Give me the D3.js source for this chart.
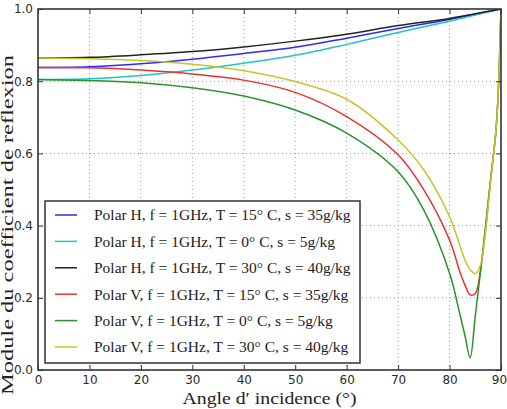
<!DOCTYPE html>
<html>
<head>
<meta charset="utf-8">
<script src="https://cdn.jsdelivr.net/npm/d3@7"></script>
<style>
  body { margin: 0; background: #fff; }
  svg { display: block; }
</style>
</head>
<body>
<svg></svg>
<script>
const width = 507
const height = 409
const margin = { top: 9, right: 6, bottom: 39, left: 38 }

// angles (degrees) sampled for each family of curves
const anglesH = [0, 10, 20, 30, 40, 50, 60, 70, 80, 85, 90]
const anglesV = [0, 10, 20, 30, 40, 50, 60, 70, 75, 80, 82, 83, 84, 85, 86, 87, 88, 89, 89.5, 90]

// values
const hT15 = [0.838, 0.840, 0.848, 0.861, 0.877, 0.894, 0.919, 0.946, 0.971, 0.986, 1.0]
const hT0 = [0.805, 0.807, 0.816, 0.831, 0.850, 0.872, 0.902, 0.935, 0.966, 0.983, 1.0]
const hT30 = [0.864, 0.866, 0.873, 0.882, 0.895, 0.911, 0.930, 0.954, 0.974, 0.987, 1.0]
const vT15 = [0.838, 0.837, 0.831, 0.820, 0.803, 0.769, 0.702, 0.596, 0.499, 0.360, 0.272, 0.235, 0.208, 0.212, 0.275, 0.390, 0.530, 0.660, 0.780, 1.0]
const vT0 = [0.805, 0.802, 0.796, 0.782, 0.759, 0.720, 0.656, 0.549, 0.443, 0.268, 0.155, 0.095, 0.034, 0.150, 0.270, 0.400, 0.530, 0.660, 0.780, 1.0]
const vT30 = [0.864, 0.862, 0.857, 0.847, 0.829, 0.799, 0.750, 0.637, 0.554, 0.425, 0.345, 0.305, 0.278, 0.267, 0.290, 0.385, 0.525, 0.660, 0.780, 1.0]

const labels = [
	'Polar H, f = 1GHz, T = 15° C, s = 35g/kg',
	'Polar H, f = 1GHz, T = 0° C, s = 5g/kg',
	'Polar H, f = 1GHz, T = 30° C, s = 40g/kg',
	'Polar V, f = 1GHz, T = 15° C, s = 35g/kg',
	'Polar V, f = 1GHz, T = 0° C, s = 5g/kg',
	'Polar V, f = 1GHz, T = 30° C, s = 40g/kg'
]
const colors = ['#2b2bff', '#22c4c4', '#222222', '#ee3030', '#2a942a', '#c6c62a']

const xTicks = [0, 10, 20, 30, 40, 50, 60, 70, 80, 90]
const yTicks = [0.0, 0.2, 0.4, 0.6, 0.8, 1.0]

const series = [
	{ x: anglesH, y: hT15 },
	{ x: anglesH, y: hT0 },
	{ x: anglesH, y: hT30 },
	{ x: anglesV, y: vT15 },
	{ x: anglesV, y: vT0 },
	{ x: anglesV, y: vT30 }
]

const svg = d3.select('svg')
	.attr('width', width)
	.attr('height', height)

const x = d3.scaleLinear().domain([0, 90]).range([margin.left, width - margin.right])
const y = d3.scaleLinear().domain([0, 1]).range([height - margin.bottom, margin.top])

const x0 = x.range()[0], x1 = x.range()[1]
const y0 = y.range()[0], y1 = y.range()[1]

svg.append('defs').append('clipPath').attr('id', 'plot')
	.append('rect')
	.attr('x', x0).attr('y', y1)
	.attr('width', x1 - x0).attr('height', y0 - y1)

// grid
const grid = svg.append('g')
grid.selectAll('line.gx')
	.data(xTicks.slice(1, -1))
	.enter().append('line')
	.attr('x1', d => x(d)).attr('x2', d => x(d))
	.attr('y1', y1).attr('y2', y0)
grid.selectAll('line.gy')
	.data(yTicks.slice(1, -1))
	.enter().append('line')
	.attr('x1', x0).attr('x2', x1)
	.attr('y1', d => y(d)).attr('y2', d => y(d))
grid.selectAll('line')
	.attr('stroke', '#999')
	.attr('stroke-width', 1)
	.attr('stroke-dasharray', '1,3')

// curves
const line = d3.line().curve(d3.curveCatmullRom.alpha(0.5))
svg.append('g')
	.attr('clip-path', 'url(#plot)')
	.selectAll('path')
	.data(series)
	.enter().append('path')
	.attr('d', s => line(s.x.map((a, i) => [x(a), y(s.y[i])])))
	.attr('fill', 'none')
	.attr('stroke', (s, i) => colors[i])
	.attr('stroke-width', 1.5)

// axes, ticks inward on all four sides
const axisStyle = g => {
	g.select('.domain').remove()
	g.selectAll('.tick line').attr('stroke', '#333').attr('stroke-width', 1)
	g.selectAll('.tick text')
		.attr('fill', '#2a2a2a')
		.style('font-family', '"DejaVu Sans", sans-serif')
		.style('font-size', '12px')
}

svg.append('g')
	.attr('transform', `translate(0,${y0})`)
	.call(d3.axisBottom(x).tickValues(xTicks).tickSizeInner(-5).tickPadding(5).tickFormat(d3.format('d')))
	.call(axisStyle)
	.selectAll('.tick text')
	.filter(d => d === 90)
	.attr('dx', -2)
svg.append('g')
	.attr('transform', `translate(0,${y1})`)
	.call(d3.axisTop(x).tickValues(xTicks).tickSizeInner(-5).tickFormat(''))
	.call(axisStyle)
svg.append('g')
	.attr('transform', `translate(${x0},0)`)
	.call(d3.axisLeft(y).tickValues(yTicks).tickSizeInner(-5).tickPadding(5).tickFormat(d3.format('.1f')))
	.call(axisStyle)
svg.append('g')
	.attr('transform', `translate(${x1},0)`)
	.call(d3.axisRight(y).tickValues(yTicks).tickSizeInner(-5).tickFormat(''))
	.call(axisStyle)

svg.append('rect')
	.attr('x', x0).attr('y', y1)
	.attr('width', x1 - x0).attr('height', y0 - y1)
	.attr('fill', 'none')
	.attr('stroke', '#333')
	.attr('stroke-width', 1.6)

// axis labels
svg.append('text')
	.attr('x', (x0 + x1) / 2)
	.attr('y', 404)
	.attr('text-anchor', 'middle')
	.attr('textLength', 174)
	.attr('lengthAdjust', 'spacingAndGlyphs')
	.style('font-family', '"Liberation Serif", serif')
	.style('font-size', '17px')
	.attr('fill', '#222')
	.text('Angle d′ incidence (°)')

svg.append('text')
	.attr('transform', 'translate(13,225) rotate(-90)')
	.attr('text-anchor', 'middle')
	.attr('textLength', 340)
	.attr('lengthAdjust', 'spacingAndGlyphs')
	.style('font-family', '"Liberation Serif", serif')
	.style('font-size', '16px')
	.attr('fill', '#222')
	.text('Module du coefficient de reflexion')

// legend
const legend = svg.append('g')
legend.append('rect')
	.attr('x', 45).attr('y', 201)
	.attr('width', 315).attr('height', 162)
	.attr('fill', '#fff')
	.attr('stroke', '#333')
	.attr('stroke-width', 1.5)

const item = legend.selectAll('g.item')
	.data(labels)
	.enter().append('g')
	.attr('transform', (d, i) => `translate(0,${215 + i * 26.4})`)
item.append('line')
	.attr('x1', 55).attr('x2', 77)
	.attr('stroke', (d, i) => colors[i])
	.attr('stroke-width', 1.5)
item.append('text')
	.attr('x', 94)
	.attr('dy', '0.35em')
	.style('font-family', '"Liberation Serif", serif')
	.style('font-size', '15.5px')
	.attr('fill', '#222')
	.text(d => d)
</script>
</body>
</html>
